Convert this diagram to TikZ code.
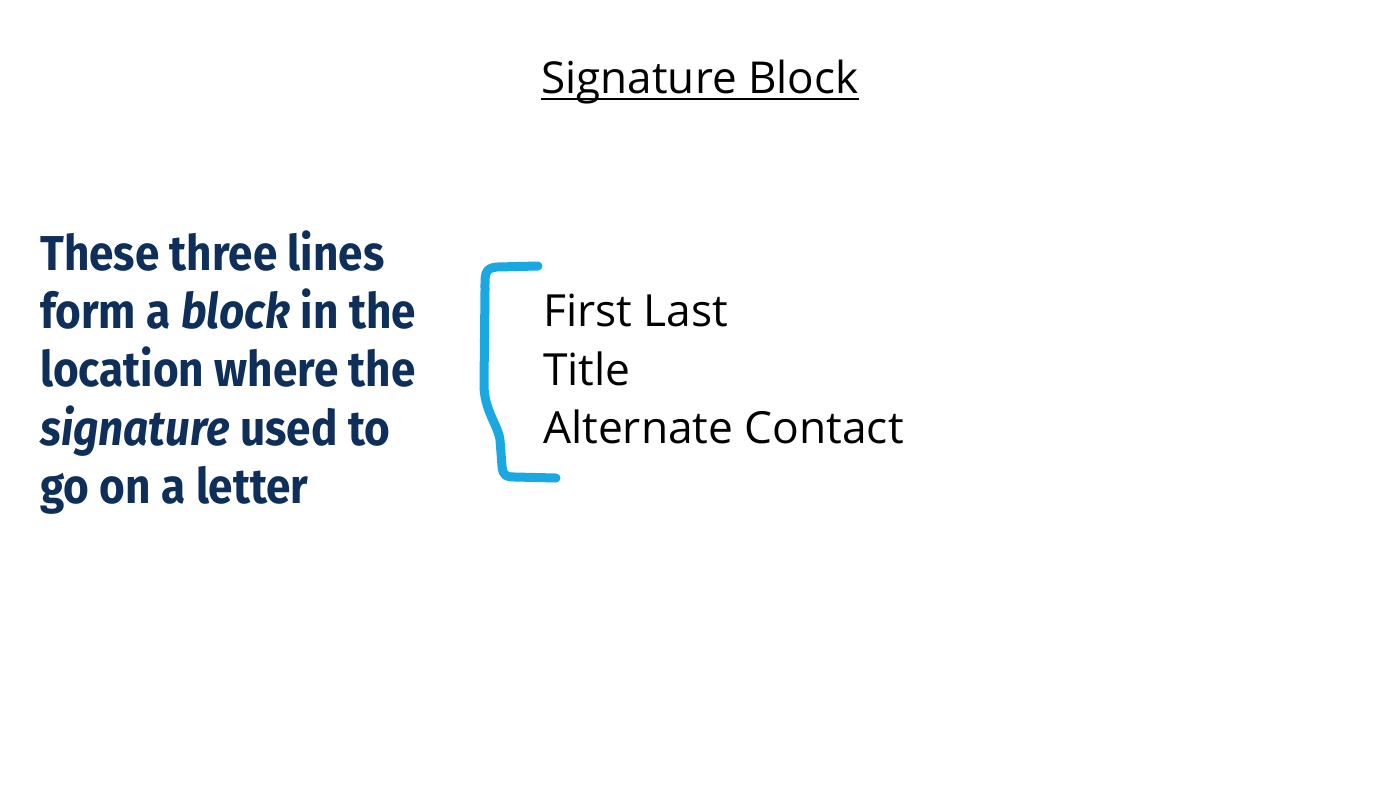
\documentclass[tikz,border=0pt]{standalone}
\usepackage{fontspec}
\setmainfont{Open Sans}
\newfontfamily\leftfont[FakeStretch=0.9]{Fira Sans}
\definecolor{navy}{HTML}{0F2F5B}
\definecolor{bracketblue}{HTML}{1AA8E2}
\tikzset{
  titletext/.style={anchor=base, inner sep=0pt, font=\fontsize{44}{52}\selectfont},
  lefttext/.style={anchor=base west, inner sep=0pt, text=navy, font=\leftfont\bfseries\fontsize{49}{58}\selectfont},
  righttext/.style={anchor=base west, inner sep=0pt, font=\fontsize{44.3}{58}\selectfont},
  bracketline/.style={draw=bracketblue, line width=9pt, line cap=round, line join=round}
}
\begin{document}
\begin{tikzpicture}[x=1pt,y=-1pt]
\useasboundingbox[fill=white] (0,0) rectangle (1400,788);
\node[titletext] (title) at (700,93) {Signature Block};
\draw[line width=2pt] ([yshift=-6pt]title.base west) coordinate (u1) -- ([yshift=-6pt]title.base east) coordinate (u2);
\node[lefttext] (l1) at (40,270) {These three lines};
\node[lefttext] (l2) at (40,328.3) {form a \textit{block} in the};
\node[lefttext] (l3) at (40,386.7) {location where the};
\node[lefttext] (l4) at (40,445) {\textit{signature} used to};
\node[lefttext] (l5) at (40,503.3) {go on a letter};
\node[righttext] (r1) at (543,326.7) {First Last};
\node[righttext] (r2) at (543,385) {Title};
\node[righttext] (r3) at (543,443.3) {Alternate Contact};
\draw[bracketline] (538,266) -- (497,267) .. controls (484,268) and (485,275) .. (485,290)
  -- (484,385) .. controls (484,410) and (498,425) .. (500,440)
  -- (502,466) .. controls (503,476) and (506,477) .. (515,477) -- (556,478);
\end{tikzpicture}
\end{document}
